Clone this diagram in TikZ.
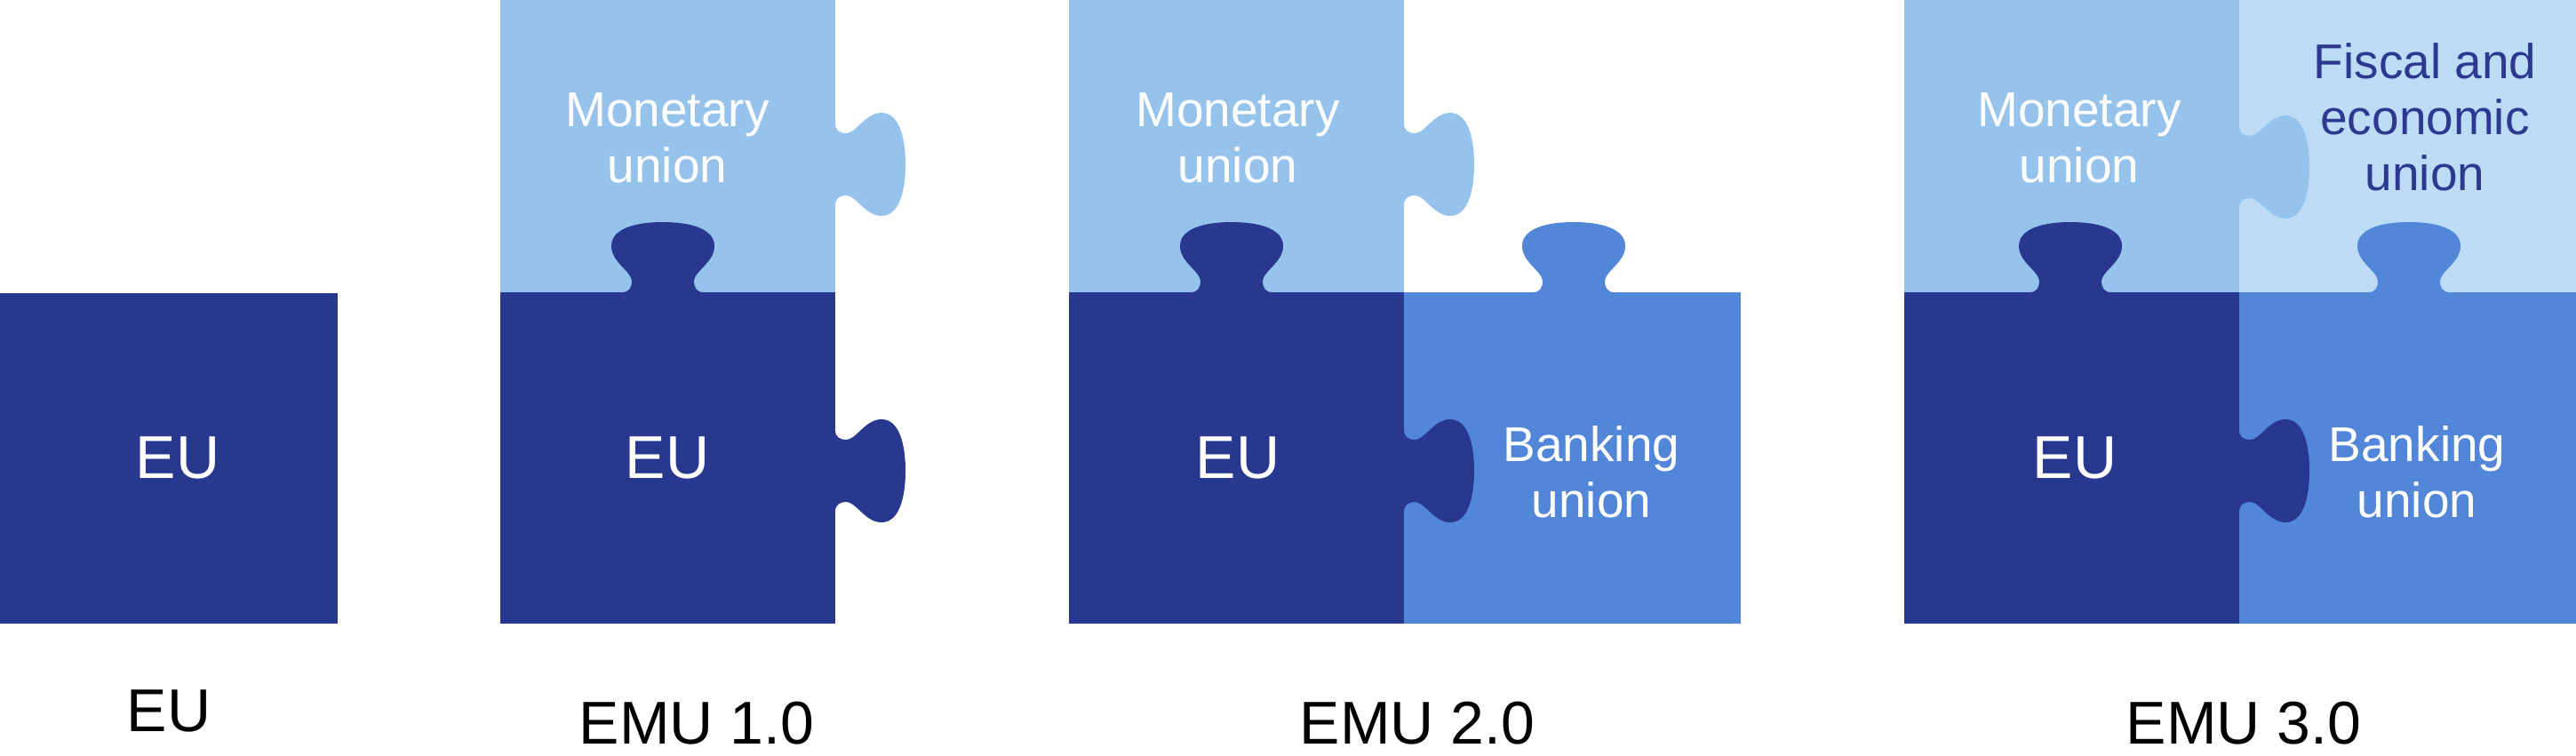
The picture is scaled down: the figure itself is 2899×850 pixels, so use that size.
\documentclass[tikz,border=0pt]{standalone}
\usepackage{fontspec}
\setmainfont{Liberation Sans}
\usepackage{tikz}
\definecolor{eublue}{RGB}{41,56,143}
\definecolor{monblue}{RGB}{150,195,236}
\definecolor{bankblue}{RGB}{82,134,217}
\definecolor{fiscblue}{RGB}{188,219,245}
\definecolor{fisctext}{RGB}{43,57,144}

\begin{document}
\begin{tikzpicture}
      [x=0.25pt, y=0.25pt,
       knob/.pic={\path[pic actions] (-46,-4) -- (-46,0)
           .. controls (-38,0) and (-35,5) .. (-35,13)
           .. controls (-36,24) and (-58,34) .. (-58,52)
           .. controls (-58,72) and (-30,79) .. (0,79)
           .. controls (30,79) and (58,72) .. (58,52)
           .. controls (58,34) and (36,24) .. (35,13)
           .. controls (35,5) and (38,0) .. (46,0) -- (46,-4) -- cycle;},
       inlabel/.style={text=white, align=center, inner sep=0pt,
           font=\fontsize{13.75}{15.75}\selectfont},
       biglabel/.style={inner sep=0pt, font=\fontsize{17}{20}\selectfont}]
      \useasboundingbox (0,0) rectangle (2899,850);
      % pieces
      \foreach \xa/\xb/\ya/\yb/\c in {0/380/148/520/eublue,
          563/940/521/850/monblue, 563/940/148/521/eublue,
          1203/1580/521/850/monblue, 1203/1580/148/521/eublue, 1580/1959/148/521/bankblue,
          2143/2520/521/850/monblue, 2520/2899/521/850/fiscblue,
          2143/2520/148/521/eublue, 2520/2899/148/521/bankblue}
        \fill[\c] (\xa,\ya) rectangle (\xb,\yb);
      % tabs
      \foreach \x/\y/\r/\c in {746/521/0/eublue, 940/665/-90/monblue, 940/320/-90/eublue,
          1386/521/0/eublue, 1580/665/-90/monblue, 1580/320/-90/eublue, 1771/521/0/bankblue,
          2330/521/0/eublue, 2520/662/-90/monblue, 2520/320/-90/eublue, 2711/521/0/bankblue}
        \pic[fill=\c, rotate=\r] at (\x,\y) {knob};
      % labels in the pieces
      \node[biglabel, text=white] (euA) at (200,335) {EU};
      \node[inlabel] (monB) at (751,695) {Monetary\\union};
      \node[biglabel, text=white] (euB) at (751,335) {EU};
      \node[inlabel] (monC) at (1393,695) {Monetary\\union};
      \node[biglabel, text=white] (euC) at (1393,335) {EU};
      \node[inlabel] (bankC) at (1791,319) {Banking\\union};
      \node[inlabel] (monD) at (2340,695) {Monetary\\union};
      \node[inlabel, text=fisctext] (fiscD) at (2729,718) {Fiscal and\\economic\\union};
      \node[biglabel, text=white] (euD) at (2335,335) {EU};
      \node[inlabel] (bankD) at (2720,319) {Banking\\union};
      % labels below
      \node[biglabel] (stageA) at (190,50) {EU};
      \node[biglabel] (stageB) at (784,36) {EMU 1.0};
      \node[biglabel] (stageC) at (1595,36) {EMU 2.0};
      \node[biglabel] (stageD) at (2525,36) {EMU 3.0};
\end{tikzpicture}
\end{document}
